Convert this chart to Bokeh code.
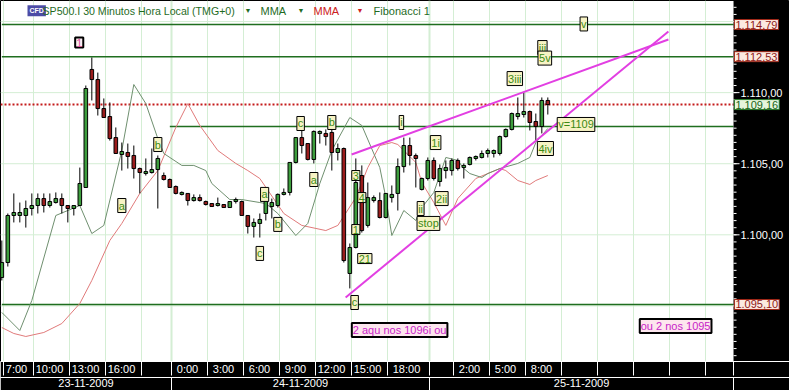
from bokeh.plotting import figure
from bokeh.models import Range1d, LinearAxis, FixedTicker, Label, Span
from bokeh.core.properties import value
from bokeh.embed import file_html
from bokeh.resources import INLINE

FONT = "Liberation Sans"

# ---- SP500 30-minute candles (index = bar number) ----
opens = [1097.00, 1098.05, 1101.36, 1101.36, 1101.36, 1101.85, 1102.06, 1102.55, 1102.06, 1102.27,
         1102.55, 1102.06, 1101.85, 1102.06, 1103.33, 1111.63, 1110.92, 1108.88, 1108.32, 1106.84,
         1105.65, 1105.79, 1105.58, 1104.66, 1104.31, 1104.38, 1104.59, 1104.17, 1103.89, 1103.40,
         1102.84, 1102.91, 1102.41, 1102.62, 1102.34, 1102.20, 1102.06, 1102.13, 1101.92, 1102.34,
         1102.34, 1101.36, 1100.59, 1100.80, 1101.50, 1101.99, 1102.06, 1102.84, 1102.98, 1105.09,
         1106.84, 1106.42, 1105.30, 1107.13, 1107.13, 1107.20, 1105.79, 1106.07, 1097.28, 1099.11,
         1104.17, 1100.66, 1102.41, 1102.41, 1101.22, 1102.62, 1102.91, 1104.80, 1106.28, 1105.58,
         1103.19, 1103.96, 1105.23, 1103.75, 1104.52, 1104.52, 1105.23, 1104.73, 1104.95, 1105.37,
         1105.44, 1105.72, 1105.72, 1105.72, 1106.91, 1107.41, 1108.32, 1108.46, 1108.67, 1107.97,
         1107.62, 1109.45]
highs = [1099.60, 1101.50, 1102.91, 1102.27, 1102.41, 1102.91, 1102.91, 1102.91, 1102.91, 1102.98,
         1102.91, 1102.06, 1102.06, 1104.73, 1110.50, 1112.47, 1111.41, 1109.59, 1109.31, 1107.55,
         1106.49, 1106.42, 1106.28, 1104.73, 1105.37, 1106.07, 1105.58, 1104.38, 1103.96, 1103.47,
         1103.05, 1102.91, 1102.84, 1102.84, 1102.41, 1102.20, 1102.62, 1102.13, 1102.34, 1102.62,
         1102.41, 1101.36, 1101.15, 1101.50, 1102.77, 1102.55, 1102.91, 1103.26, 1105.09, 1106.84,
         1107.34, 1106.42, 1107.34, 1107.34, 1107.41, 1107.55, 1106.42, 1106.14, 1099.39, 1105.37,
         1104.88, 1103.68, 1102.77, 1102.98, 1102.91, 1103.47, 1105.37, 1106.84, 1106.84, 1105.72,
         1104.03, 1105.44, 1105.44, 1104.95, 1105.23, 1105.37, 1105.37, 1105.02, 1105.51, 1105.58,
         1105.93, 1106.07, 1106.00, 1106.98, 1107.48, 1108.60, 1109.66, 1110.01, 1108.74, 1108.53,
         1109.66, 1109.66]
lows = [1096.79, 1097.77, 1100.87, 1100.87, 1100.51, 1101.36, 1101.50, 1101.57, 1101.92, 1102.20,
        1101.50, 1100.87, 1101.36, 1102.06, 1103.33, 1109.45, 1108.39, 1108.25, 1106.63, 1105.72,
        1104.52, 1104.66, 1103.96, 1102.91, 1104.17, 1104.31, 1101.85, 1103.82, 1103.33, 1102.84,
        1102.77, 1102.06, 1102.34, 1102.34, 1102.06, 1101.99, 1101.99, 1101.92, 1101.92, 1102.20,
        1101.36, 1100.09, 1099.81, 1099.81, 1101.01, 1101.15, 1101.92, 1102.77, 1102.77, 1105.02,
        1105.72, 1105.23, 1105.02, 1106.42, 1106.28, 1104.52, 1105.23, 1098.05, 1096.23, 1099.04,
        1100.16, 1100.51, 1102.27, 1101.15, 1101.15, 1102.27, 1101.71, 1104.38, 1104.88, 1103.33,
        1103.12, 1103.82, 1103.82, 1103.40, 1103.96, 1104.17, 1104.52, 1103.96, 1104.88, 1105.23,
        1105.37, 1105.44, 1105.44, 1105.58, 1106.84, 1107.34, 1108.11, 1108.25, 1107.34, 1106.63,
        1107.13, 1108.46]
closes = [1098.05, 1101.36, 1101.57, 1101.57, 1101.85, 1102.06, 1102.55, 1102.06, 1102.34, 1102.55,
          1102.06, 1101.85, 1102.06, 1103.61, 1110.29, 1110.92, 1108.88, 1108.25, 1106.77, 1105.72,
          1105.86, 1105.51, 1104.66, 1104.38, 1104.45, 1104.59, 1105.37, 1103.89, 1103.33, 1102.91,
          1102.98, 1102.41, 1102.62, 1102.41, 1102.13, 1101.99, 1102.20, 1101.92, 1102.34, 1102.48,
          1101.36, 1100.59, 1100.87, 1101.08, 1102.41, 1102.27, 1102.84, 1102.98, 1105.09, 1106.84,
          1106.28, 1105.30, 1107.27, 1107.27, 1106.91, 1105.79, 1106.07, 1098.19, 1099.11, 1103.68,
          1100.30, 1102.62, 1102.62, 1101.22, 1102.91, 1102.84, 1104.80, 1106.28, 1105.58, 1105.37,
          1103.96, 1105.23, 1103.96, 1104.66, 1104.73, 1105.23, 1104.66, 1104.88, 1105.44, 1105.51,
          1105.72, 1105.93, 1105.93, 1106.91, 1107.41, 1108.53, 1108.53, 1108.67, 1107.90, 1107.62,
          1109.45, 1109.16]
bars = list(range(len(opens)))

# ---- moving averages (bar index, value) ----
mma_fast_bar = [0, 3, 5, 9, 13, 15, 17, 20, 22, 24, 26, 27, 30, 32, 34, 35, 38, 40, 43, 44, 46,
                49, 51, 53, 55, 58, 60, 63, 64, 65, 67, 69, 70, 72, 74, 76, 77, 78, 80, 81, 83,
                86, 88, 89, 91]
mma_fast = [1094.54, 1093.27, 1095.38, 1101.36, 1102.06, 1100.09, 1100.66, 1105.93, 1110.57,
            1109.23, 1106.77, 1105.72, 1104.88, 1104.88, 1104.52, 1103.61, 1102.48, 1102.48,
            1102.27, 1102.20, 1101.50, 1099.95, 1100.80, 1103.61, 1105.93, 1108.25, 1107.69,
            1104.73, 1102.62, 1099.95, 1101.71, 1101.01, 1101.92, 1102.98, 1105.44, 1105.23,
            1104.66, 1104.31, 1104.03, 1104.31, 1104.66, 1105.02, 1105.44, 1106.49, 1107.48]
mma_slow_bar = [0, 2, 4, 7, 10, 13, 15, 18, 20, 23, 26, 29, 31, 33, 36, 39, 41, 43, 47, 50, 54,
                56, 59, 61, 63, 65, 66, 69, 70, 72, 74, 76, 79, 83, 84, 86, 88, 89, 91]
mma_slow = [1093.48, 1093.06, 1092.85, 1093.13, 1093.76, 1095.17, 1096.79, 1099.60, 1100.80,
            1102.91, 1104.52, 1107.55, 1109.23, 1107.69, 1105.93, 1105.02, 1104.52, 1103.96,
            1101.50, 1100.66, 1100.30, 1100.66, 1102.62, 1104.73, 1106.28, 1106.49, 1106.35,
            1105.09, 1103.68, 1102.27, 1100.66, 1102.55, 1103.96, 1104.66, 1104.52, 1103.82,
            1103.54, 1103.82, 1104.17]

# ---- Fibonacci levels, last price, wedge ----
fib_levels = [1114.79, 1112.53, 1107.62, 1095.10]
fib_from_bar = [0, 0, 28, 0]
last_price = 1109.16
wedge_upper_bar = [58.3, 111.1]
wedge_upper = [1105.65, 1113.74]
wedge_lower_bar = [57.3, 111.1]
wedge_lower = [1095.59, 1114.30]

# ---- wave counts ----
peak_text, peak_bar, peak_price = "1", 12.9, 1113.52
wave_text = ["a", "b", "c", "a", "b", "c", "a", "b", "3", "4", "1", "21", "c", "i", "1i",
             "ii", "stop", "2ii", "3iii", "4iv", "v=1109", "iii", "5v", "v"]
wave_bar = [20.0, 26.0, 43.0, 43.8, 46.0, 49.8, 52.0, 55.0, 59.0, 60.0, 59.0, 60.5, 58.8, 66.6,
            72.3, 69.8, 71.1, 73.3, 85.5, 90.6, 95.7, 90.1, 90.5, 97.0]
wave_price = [1102.06, 1106.35, 1098.69, 1102.84, 1100.73, 1107.83, 1103.89, 1107.90, 1104.17,
              1102.62, 1100.37, 1098.33, 1095.24, 1107.90, 1106.49, 1101.85, 1100.80, 1102.55,
              1110.99, 1106.07, 1107.76, 1113.17, 1112.43, 1114.83]
note_text = ["2 aqu nos 1096i ou", "ou 2 nos 1095"]
note_bar = [66.3, 112.3]
note_price = [1093.31, 1093.59]

# ---- time axis ----
time_ticks = [0, 5, 11, 17, 23, 28, 34, 40, 46, 52, 58, 64, 71, 75, 81, 87, 93, 99, 105, 111, 117]
time_labels = ["7:00", "10:00", "13:00", "16:00", "", "0:00", "3:00", "6:00", "9:00", "12:00",
               "15:00", "18:00", "", "2:00", "5:00", "8:00", "", "", "", "", ""]
day_start_bar = [28, 71]
day_labels = ["23-11-2009", "24-11-2009", "25-11-2009"]

# ---- price scale ----
price_ticks = [1095, 1100, 1105, 1110, 1115]
price_tick_text = ["", "1.100,00", "1.105,00", "1.110,00", ""]
price_minor = [1091.5 + 0.5 * i for i in range(50)]
price_marks = [(1114.79, "1.114,79", "red"), (1112.53, "1.112,53", "red"),
               (1109.16, "1.109,16", "green"), (1095.10, "1.095,10", "red")]

X_START, X_END, X_RIGHT = -0.22, 121.95, 131.28   # 6 px per bar; price scale beyond X_END
Y_LOW, Y_HIGH = 1091.09, 1116.48

p = figure(width=789, height=390, x_range=Range1d(X_START, X_RIGHT), y_range=Range1d(Y_LOW, Y_HIGH),
           output_backend="svg", toolbar_location=None, x_axis_location=None, y_axis_location=None,
           min_border_left=0, min_border_top=0, min_border_right=0, min_border_bottom=29,
           border_fill_color="black", background_fill_color="white",
           outline_line_color="black", outline_line_width=1)
p.grid.visible = False

GRID = "#d4eed4"
sep_pos = [round(t + 0.28, 2) for t in time_ticks]
for s in sep_pos:
    wide = 2 if round(s - 0.28) in day_start_bar else 1
    p.add_layout(Span(location=s, dimension="height", line_color=GRID, line_width=wide, level="underlay"))
p.segment(x0=[X_START] * len(price_ticks), y0=price_ticks, x1=[X_END] * len(price_ticks),
          y1=price_ticks, line_color=GRID, line_width=1)

# Fibonacci levels and last price
p.segment(x0=fib_from_bar, y0=fib_levels, x1=[X_END] * len(fib_levels), y1=fib_levels,
          line_color="#1f6e1f", line_width=1.5)
p.segment(x0=[X_START], y0=[last_price], x1=[X_END], y1=[last_price],
          line_color="#c41a1a", line_dash="2 2", line_width=2)

# moving averages
p.line(mma_slow_bar, mma_slow, line_color="#e07a7a", line_width=1)
p.line(mma_fast_bar, mma_fast, line_color="#6f8f6f", line_width=1)

# candles
up = [c >= o for o, c in zip(opens, closes)]
tops = [max(o, c) for o, c in zip(opens, closes)]
bots = [min(o, c) for o, c in zip(opens, closes)]
fills = ["#3d9d3d" if u else "#9a1c1c" for u in up]
p.segment(x0=bars, y0=highs, x1=bars, y1=lows, line_color="black", line_width=1)
p.vbar(x=bars, width=0.6, top=tops, bottom=bots, fill_color=fills, line_color="black", line_width=1)

# wedge trend lines
p.line(wedge_upper_bar, wedge_upper, line_color="#e23fe2", line_width=2)
p.line(wedge_lower_bar, wedge_lower, line_color="#e23fe2", line_width=2)

# price scale panel on the right
p.quad(left=[X_END], right=[X_RIGHT], bottom=[Y_LOW], top=[Y_HIGH], fill_color="black",
       line_color=None)
p.segment(x0=[X_END] * len(price_minor), y0=price_minor, x1=[X_END + 0.5] * len(price_minor),
          y1=price_minor, line_color="white", line_width=1)
p.segment(x0=[X_END] * len(price_ticks), y0=price_ticks, x1=[X_END + 1.0] * len(price_ticks),
          y1=price_ticks, line_color="white", line_width=1)
p.text(x=[X_END + 1.15] * len(price_ticks), y=price_ticks, text=price_tick_text,
       text_font=value(FONT), text_font_size="11px", text_color="white",
       text_align="left", text_baseline="middle")

# wave count boxes
p.add_layout(Label(x=peak_bar, y=peak_price, text=peak_text, text_font=FONT, text_font_size="11px",
                   text_color="#e0509c", text_align="center", text_baseline="middle",
                   background_fill_color="#fbeef0", border_line_color="black", border_line_width=2,
                   padding=1))
for t, bx, py in zip(wave_text, wave_bar, wave_price):
    p.add_layout(Label(x=bx, y=py, text=t, text_font=FONT, text_font_size="11px",
                       text_color="#3b8a14", text_align="center", text_baseline="middle",
                       background_fill_color="#f7f3c4", border_line_color="black",
                       border_line_width=1, padding=1))
for t, bx, py in zip(note_text, note_bar, note_price):
    p.add_layout(Label(x=bx, y=py, text=t, text_font=FONT, text_font_size="11px",
                       text_color="#c81ec8", text_align="center", text_baseline="middle",
                       background_fill_color="#fde6ee", border_line_color="black",
                       border_line_width=2, padding=1))

# price boxes on the scale
for lvl, txt, kind in price_marks:
    if kind == "red":
        fill, edge, col = "#fbe9e0", "#a02818", "#8e1a1a"
    else:
        fill, edge, col = "#e6f5dc", "#2a7a2a", "#1a661a"
    p.add_layout(Label(x=X_END + 0.15, y=lvl, text=txt, text_font=FONT,
                       text_font_size="11px", text_color=col, text_align="left",
                       text_baseline="middle", background_fill_color=fill,
                       border_line_color=edge, border_line_width=1, padding=1))

# legend strip
LEG_Y = Y_HIGH - 0.72
p.add_layout(Label(x=27, y=LEG_Y, x_units="screen", text="CFD", text_font=FONT, text_font_size="7px",
                   text_font_style="bold", text_color="white", text_baseline="middle",
                   background_fill_color="#4c4ca6", padding=2))
legend_parts = [("SP500.I 30 Minutos Hora Local (TMG+0)", 42, "#1f6b1f", "10.6px"),
                ("\u25BC", 244, "#1f6b1f", "7px"), ("MMA", 260, "#1f6b1f", "11px"),
                ("\u25BC", 297, "#1f6b1f", "7px"), ("MMA", 313, "#cc2020", "11px"),
                ("\u25BC", 356, "#cc2020", "7px"), ("Fibonacci 1", 373, "#1f6b1f", "11px")]
for t, sx, col, fs in legend_parts:
    p.add_layout(Label(x=sx, y=LEG_Y, x_units="screen", text=t, text_font=FONT, text_font_size=fs,
                       text_color=col, text_baseline="middle"))

# time / date axes
bounds = sep_pos + [X_END]
time_pos, time_txt = [], []
for i, lab in enumerate(time_labels):
    if lab:
        time_pos.append(round((bounds[i] + bounds[i + 1]) / 2 - 0.33, 2))
        time_txt.append(lab)
time_axis = LinearAxis(ticker=FixedTicker(ticks=time_pos, minor_ticks=sep_pos + [X_END]),
                       major_label_overrides=dict(zip(time_pos, time_txt)),
                       axis_line_color="white", major_tick_out=0, major_tick_in=0,
                       minor_tick_out=14, minor_tick_in=0, minor_tick_line_color="white",
                       major_label_standoff=-13, major_label_text_color="white",
                       major_label_text_font=FONT, major_label_text_font_size="11px")
p.add_layout(time_axis, "below")

day_bounds = [X_START] + [d + 0.28 for d in day_start_bar] + [X_END]
day_pos = [round((day_bounds[i] + day_bounds[i + 1]) / 2, 2) for i in range(len(day_labels))]
date_axis = LinearAxis(ticker=FixedTicker(ticks=day_pos,
                                          minor_ticks=[d + 0.28 for d in day_start_bar] + [X_END]),
                       major_label_overrides=dict(zip(day_pos, day_labels)),
                       axis_line_color="white", major_tick_out=0, major_tick_in=0,
                       minor_tick_out=15, minor_tick_in=0, minor_tick_line_color="white",
                       major_label_standoff=-14, major_label_text_color="white",
                       major_label_text_font=FONT, major_label_text_font_size="11px")
p.add_layout(date_axis, "below")

open("out.html", "w").write(file_html(p, INLINE))
